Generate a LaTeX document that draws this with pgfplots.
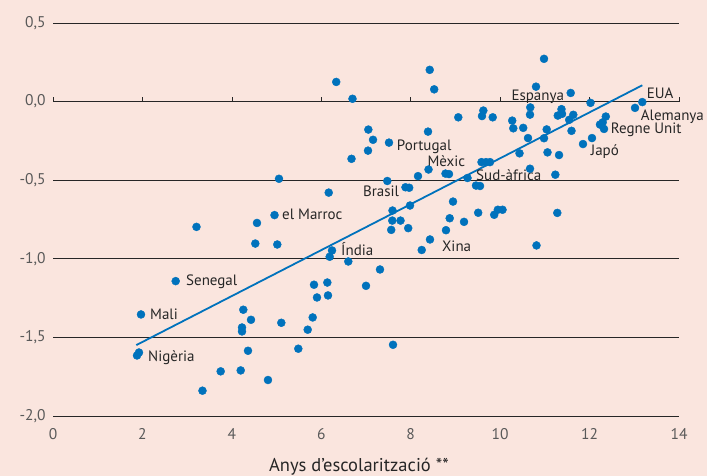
\documentclass[border=0pt]{standalone}
\usepackage{fontspec}
\setmainfont{PT Sans}
\usepackage{pgfplots}
\pgfplotsset{compat=1.18}
\definecolor{bg}{RGB}{250,229,222}
\definecolor{dotblue}{RGB}{0,114,188}
\begin{document}
\begin{tikzpicture}
\path[use as bounding box, fill=bg] (-53bp,-60bp) rectangle (654bp,416bp);
\begin{axis}[
  at={(0,0)}, anchor=south west,
  scale only axis, width=626bp, height=393bp,
  xmin=0, xmax=14, ymin=-2, ymax=0.5,
  axis line style={draw=none}, tick style={draw=none},
  major tick length=0pt,
  xtick={0,2,4,6,8,10,12,14},
  xticklabels={0,2,4,6,8,10,12,14},
  ytick={-2,-1.5,-1,-0.5,0,0.5},
  yticklabels={{-2,0},{-1,5},{-1,0},{-0,5},{0,0},{0,5}},
  ymajorgrids,
  major grid style={black!85, line width=0.7bp},
  clip=false,
  ticklabel style={font=\fontsize{15.5bp}{17bp}\selectfont, text=black!65},
  xticklabel style={yshift=-9bp},
  yticklabel style={xshift=-4bp},
]
\pgfplotsinvokeforeach{0,2,4,6,8,10,12,14}{
  \draw[black!85, line width=0.7bp] (axis cs:#1,0) -- (axis cs:#1,0.029);
}
\addplot[dotblue, line width=1.8bp] coordinates {(1.863,-1.549) (13.18,0.104)};
\addplot[only marks, mark=*, mark size=4bp, dotblue, mark options={draw=none, fill=dotblue}] coordinates {
(1.879,-1.615) (1.923,-1.596) (1.968,-1.354) (2.744,-1.142) (3.209,-0.797)
(3.343,-1.839) (3.750,-1.716) (4.198,-1.710) (4.227,-1.437) (4.227,-1.462)
(4.256,-1.324) (4.361,-1.585) (4.428,-1.388) (4.524,-0.903) (4.562,-0.772)
(4.808,-1.771) (4.954,-0.722) (5.016,-0.909) (5.054,-0.491) (5.106,-1.407)
(5.486,-1.572) (5.696,-1.451) (5.808,-1.373) (5.837,-1.165) (5.904,-1.246)
(6.135,-1.151) (6.150,-1.233) (6.166,-0.579) (6.188,-0.987) (6.240,-0.947)
(6.334,0.125) (6.604,-1.017) (6.676,-0.364) (6.698,0.018) (7.000,-1.172)
(7.052,-0.178) (7.045,-0.312) (7.157,-0.243) (7.313,-1.068) (7.476,-0.505)
(7.514,-0.261) (7.564,-0.816) (7.593,-0.693) (7.588,-0.757) (7.604,-1.547)
(7.772,-0.757) (7.883,-0.545) (7.966,-0.548) (7.944,-0.805) (7.984,-0.661)
(8.163,-0.474) (8.246,-0.944) (8.387,-0.191) (8.398,-0.432) (8.425,0.202)
(8.431,-0.877) (8.525,0.078) (8.778,-0.458) (8.856,-0.461) (8.789,-0.818)
(8.872,-0.742) (8.946,-0.636) (9.064,-0.100) (9.192,-0.765) (9.270,-0.486)
(9.460,-0.534) (9.550,-0.537) (9.509,-0.707) (9.583,-0.385) (9.684,-0.385)
(9.773,-0.385) (9.624,-0.057) (9.594,-0.092) (9.834,-0.100) (9.867,-0.720)
(9.948,-0.688) (10.053,-0.688) (10.270,-0.121) (10.294,-0.170) (10.433,-0.329)
(10.516,-0.167) (10.623,-0.232) (10.674,-0.037) (10.668,-0.083) (10.668,-0.427)
(10.802,0.095) (10.813,-0.915) (10.981,0.272) (10.981,-0.233) (11.041,-0.177)
(11.059,-0.323) (11.234,-0.465) (11.278,-0.708) (11.289,-0.089) (11.384,-0.078)
(11.372,-0.048) (11.317,-0.340) (11.544,-0.116) (11.578,0.055) (11.596,-0.186)
(11.636,-0.084) (11.853,-0.270) (12.021,-0.008) (12.054,-0.232) (12.233,-0.146)
(12.294,-0.132) (12.323,-0.174) (12.363,-0.095) (13.016,-0.040) (13.179,-0.003)
};
\begin{scope}[every node/.style={font=\fontsize{15bp}{17bp}\selectfont, text=black!85, inner sep=0pt}]
\node[anchor=west] at (axis cs:2.125,-1.626) {Nigèria};
\node[anchor=west] at (axis cs:2.169,-1.352) {Mali};
\node[anchor=west] at (axis cs:2.974,-1.144) {Senegal};
\node[anchor=west] at (axis cs:5.121,-0.718) {el Marroc};
\node[anchor=west] at (axis cs:6.441,-0.935) {Índia};
\node[anchor=west] at (axis cs:8.700,-0.922) {Xina};
\node[anchor=east] at (axis cs:7.745,-0.572) {Brasil};
\node[anchor=west] at (axis cs:7.687,-0.286) {Portugal};
\node[anchor=west] at (axis cs:8.371,-0.381) {Mèxic};
\node[anchor=west] at (axis cs:9.460,-0.470) {Sud-àfrica};
\node[anchor=west] at (axis cs:10.250,0.032) {Espanya};
\node[anchor=west] at (axis cs:13.278,0.051) {EUA};
\node[anchor=west] at (axis cs:13.143,-0.095) {Alemanya};
\node[anchor=west] at (axis cs:12.473,-0.180) {Regne Unit};
\node[anchor=west] at (axis cs:12.025,-0.316) {Japó};
\end{scope}
\node[font=\fontsize{18.5bp}{20bp}\selectfont, text=black!85] at (axis cs:6.843,-2) [yshift=-50.7bp] {Anys d’escolarització **};
\end{axis}
\end{tikzpicture}
\end{document}
